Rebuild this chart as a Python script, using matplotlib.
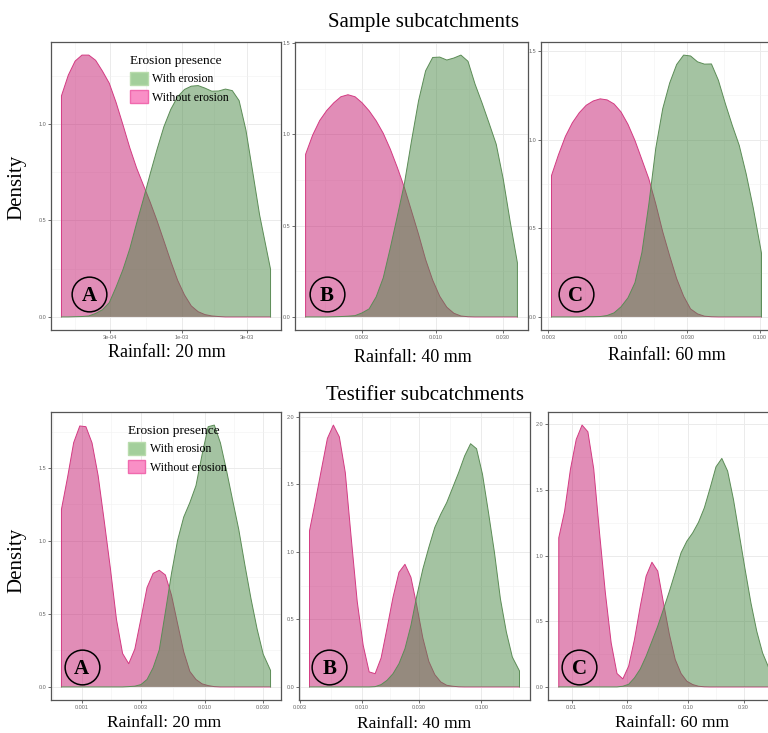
import numpy as np
import matplotlib
matplotlib.use('Agg')
import matplotlib.pyplot as plt
from matplotlib.patches import Patch
from matplotlib.ticker import FixedLocator, FixedFormatter, NullFormatter

# Kernel densities of erosion-prone rainfall depth, on log10(rainfall) grids
# Sample subcatchments - 20 mm
sample_20_logx = [-3.88, -3.83, -3.78, -3.73, -3.68, -3.63, -3.58, -3.53, -3.48, -3.43,
                  -3.38, -3.33, -3.28, -3.23, -3.18, -3.13, -3.08, -3.03, -2.98, -2.93,
                  -2.88, -2.83, -2.78, -2.73, -2.68, -2.63, -2.58, -2.53, -2.48, -2.43,
                  -2.38, -2.35]
sample_20_without = [1.145, 1.252, 1.325, 1.356, 1.356, 1.329, 1.273, 1.210, 1.110, 0.995,
                     0.876, 0.771, 0.682, 0.593, 0.497, 0.393, 0.288, 0.190, 0.114, 0.057,
                     0.027, 0.012, 0.005, 0.002, 0, 0, 0, 0, 0, 0,
                     0, 0]
sample_20_with = [0, 0, 0.001, 0.002, 0.005, 0.018, 0.037, 0.074, 0.155, 0.245,
                  0.353, 0.485, 0.611, 0.743, 0.869, 0.986, 1.075, 1.140, 1.178, 1.195,
                  1.198, 1.185, 1.169, 1.170, 1.180, 1.172, 1.120, 0.967, 0.749, 0.528,
                  0.352, 0.247]

# Sample subcatchments - 40 mm
sample_40_logx = [-2.92, -2.87, -2.82, -2.77, -2.72, -2.67, -2.62, -2.57, -2.52, -2.47,
                  -2.42, -2.37, -2.32, -2.27, -2.22, -2.17, -2.12, -2.07, -2.02, -1.97,
                  -1.92, -1.87, -1.82, -1.77, -1.72, -1.67, -1.62, -1.57, -1.52, -1.47,
                  -1.42]
sample_40_without = [0.890, 0.995, 1.075, 1.130, 1.172, 1.205, 1.216, 1.205, 1.172, 1.128,
                     1.073, 1.005, 0.918, 0.817, 0.707, 0.580, 0.452, 0.314, 0.201, 0.113,
                     0.053, 0.020, 0.005, 0.001, 0, 0, 0, 0, 0, 0,
                     0]
sample_40_with = [0, 0, 0, 0, 0.001, 0.002, 0.004, 0.007, 0.022, 0.044,
                  0.110, 0.214, 0.378, 0.552, 0.731, 0.963, 1.183, 1.347, 1.420, 1.422,
                  1.406, 1.417, 1.433, 1.399, 1.274, 1.170, 1.059, 0.945, 0.753, 0.516,
                  0.296]

# Sample subcatchments - 60 mm
sample_60_logx = [-2.50, -2.45, -2.40, -2.35, -2.30, -2.25, -2.20, -2.15, -2.10, -2.05,
                  -2.00, -1.95, -1.90, -1.85, -1.80, -1.75, -1.70, -1.65, -1.60, -1.55,
                  -1.50, -1.45, -1.40, -1.35, -1.30, -1.25, -1.20, -1.15, -1.10, -1.05,
                  -0.99]
sample_60_without = [0.798, 0.915, 1.019, 1.096, 1.153, 1.195, 1.219, 1.231, 1.225, 1.202,
                     1.157, 1.087, 0.996, 0.888, 0.779, 0.637, 0.480, 0.344, 0.216, 0.117,
                     0.045, 0.017, 0.004, 0.001, 0, 0, 0, 0, 0, 0,
                     0]
sample_60_with = [0, 0, 0, 0, 0, 0.001, 0.001, 0.002, 0.008, 0.023,
                  0.057, 0.108, 0.193, 0.363, 0.637, 0.953, 1.176, 1.321, 1.425, 1.478,
                  1.473, 1.440, 1.427, 1.428, 1.336, 1.204, 1.081, 0.968, 0.807, 0.618,
                  0.360]

# Testifier subcatchments - 20 mm
testifier_20_logx = [-3.17, -3.12, -3.07, -3.02, -2.97, -2.92, -2.87, -2.82, -2.77, -2.72,
                     -2.67, -2.62, -2.57, -2.52, -2.47, -2.42, -2.37, -2.32, -2.27, -2.22,
                     -2.17, -2.12, -2.07, -2.02, -1.97, -1.92, -1.87, -1.82, -1.77, -1.72,
                     -1.67, -1.62, -1.57, -1.52, -1.46]
testifier_20_without = [1.217, 1.436, 1.674, 1.788, 1.783, 1.672, 1.448, 1.136, 0.813, 0.462,
                        0.229, 0.159, 0.259, 0.467, 0.681, 0.778, 0.799, 0.767, 0.628, 0.432,
                        0.240, 0.106, 0.051, 0.021, 0.009, 0.002, 0, 0, 0, 0,
                        0, 0, 0, 0, 0]
testifier_20_with = [0, 0, 0, 0, 0, 0, 0, 0, 0, 0,
                     0, 0.002, 0.005, 0.016, 0.051, 0.132, 0.254, 0.513, 0.778, 1.005,
                     1.164, 1.263, 1.379, 1.591, 1.783, 1.794, 1.672, 1.483, 1.279, 1.079,
                     0.836, 0.605, 0.397, 0.224, 0.113]

# Testifier subcatchments - 40 mm
testifier_40_logx = [-2.44, -2.39, -2.34, -2.29, -2.24, -2.19, -2.14, -2.09, -2.04, -1.99,
                     -1.94, -1.89, -1.84, -1.79, -1.74, -1.69, -1.64, -1.59, -1.54, -1.49,
                     -1.44, -1.39, -1.34, -1.29, -1.24, -1.19, -1.14, -1.09, -1.04, -0.99,
                     -0.94, -0.89, -0.84, -0.79, -0.74, -0.68]
testifier_40_without = [1.156, 1.378, 1.611, 1.840, 1.939, 1.852, 1.587, 1.100, 0.632, 0.308,
                        0.111, 0.098, 0.214, 0.435, 0.664, 0.849, 0.908, 0.812, 0.598, 0.362,
                        0.189, 0.091, 0.037, 0.012, 0.005, 0.001, 0, 0, 0, 0,
                        0, 0, 0, 0, 0, 0]
testifier_40_with = [0, 0, 0, 0, 0, 0, 0, 0, 0, 0,
                     0, 0.002, 0.017, 0.049, 0.098, 0.172, 0.283, 0.455, 0.677, 0.873,
                     1.033, 1.181, 1.279, 1.365, 1.476, 1.587, 1.710, 1.801, 1.764, 1.574,
                     1.292, 0.996, 0.652, 0.406, 0.221, 0.118]

# Testifier subcatchments - 60 mm
testifier_60_logx = [-2.11, -2.06, -2.01, -1.96, -1.91, -1.86, -1.81, -1.76, -1.71, -1.66,
                     -1.61, -1.56, -1.51, -1.46, -1.41, -1.36, -1.31, -1.26, -1.21, -1.16,
                     -1.11, -1.06, -1.01, -0.96, -0.91, -0.86, -0.81, -0.76, -0.71, -0.66,
                     -0.61, -0.56, -0.51, -0.46, -0.41, -0.36, -0.31, -0.26]
testifier_60_without = [1.136, 1.339, 1.657, 1.886, 1.995, 1.944, 1.662, 1.174, 0.717, 0.335,
                        0.102, 0.061, 0.158, 0.361, 0.615, 0.844, 0.950, 0.882, 0.635, 0.399,
                        0.208, 0.102, 0.043, 0.018, 0.005, 0.001, 0, 0, 0, 0,
                        0, 0, 0, 0, 0, 0, 0, 0]
testifier_60_with = [0, 0, 0, 0, 0, 0, 0, 0, 0, 0,
                     0, 0.005, 0.020, 0.069, 0.137, 0.234, 0.348, 0.463, 0.595, 0.729,
                     0.874, 1.022, 1.111, 1.174, 1.255, 1.365, 1.517, 1.677, 1.741, 1.644,
                     1.428, 1.161, 0.895, 0.640, 0.424, 0.259, 0.152, 0.094]

# axis breaks
ticks_s20 = [3e-4, 1e-3, 3e-3]
labels_s20 = ['3e-04', '1e-03', '3e-03']
ticks_s40 = [0.003, 0.01, 0.03]
labels_s40 = ['0.003', '0.010', '0.030']
ticks_s60 = [0.003, 0.01, 0.03, 0.1]
labels_s60 = ['0.003', '0.010', '0.030', '0.100']
ticks_t20 = [0.001, 0.003, 0.01, 0.03]
labels_t20 = ['0.001', '0.003', '0.010', '0.030']
ticks_t40 = [0.003, 0.01, 0.03, 0.1]
labels_t40 = ['0.003', '0.010', '0.030', '0.100']
ticks_t60 = [0.01, 0.03, 0.1, 0.3]
labels_t60 = ['0.01', '0.03', '0.10', '0.30']

GREEN = '#4B8947'
GREEN_LINE = '#5B8C56'
PINK = '#C51D71'
PINK_LINE = '#D33A82'
SERIF = 'Liberation Serif'
SANS = 'Liberation Sans'

W, H = 768, 733
fig = plt.figure(figsize=(W / 100, H / 100), dpi=100)


def box(x0, y0, x1, y1):
    # pixel box -> figure fraction
    return [x0 / W, 1 - y1 / H, (x1 - x0) / W, (y1 - y0) / H]


def draw_panel(rect, logx, with_e, without_e, xt, xl, yt, letter, letter_pos):
    ax = fig.add_axes(box(*rect))
    x = 10 ** np.array(logx)
    w = np.array(with_e)
    wo = np.array(without_e)

    ax.fill_between(x, 0, wo, facecolor=PINK, alpha=0.5, lw=0, zorder=2)
    ax.plot(np.r_[x[0], x, x[-1]], np.r_[0, wo, 0], color=PINK_LINE, lw=0.7, zorder=2)
    ax.fill_between(x, 0, w, facecolor=GREEN, alpha=0.5, lw=0, zorder=3)
    ax.plot(np.r_[x[0], x, x[-1]], np.r_[0, w, 0], color=GREEN_LINE, lw=0.7, zorder=3)

    ax.set_xscale('log')
    lo, hi = logx[0], logx[-1]
    pad = 0.05 * (hi - lo)
    ax.set_xlim(10 ** (lo - pad), 10 ** (hi + pad))
    ymax = max(w.max(), wo.max())
    ax.set_ylim(-0.05 * ymax, 1.05 * ymax)

    # major / minor breaks, minor at midpoints in log space
    lt = np.log10(xt)
    d = lt[1] - lt[0]
    ext = np.r_[lt[0] - d, lt, lt[-1] + d]
    ax.xaxis.set_major_locator(FixedLocator(xt))
    ax.xaxis.set_major_formatter(FixedFormatter(xl))
    ax.xaxis.set_minor_locator(FixedLocator(10 ** ((ext[:-1] + ext[1:]) / 2)))
    ax.xaxis.set_minor_formatter(NullFormatter())
    ax.yaxis.set_major_locator(FixedLocator(yt))
    ax.yaxis.set_major_formatter(FixedFormatter(['%.1f' % v for v in yt]))
    ax.yaxis.set_minor_locator(FixedLocator(np.r_[np.array(yt) + 0.25]))

    ax.grid(which='major', color='#EBEBEB', lw=0.7, zorder=0)
    ax.grid(which='minor', color='#F2F2F2', lw=0.4, zorder=0)
    ax.set_axisbelow(True)
    ax.tick_params(which='major', length=2, width=0.5, color='#333333', pad=1.5,
                   labelsize=4, labelcolor='#666666')
    ax.tick_params(which='minor', length=0)
    for lab in ax.get_xticklabels() + ax.get_yticklabels():
        lab.set_family(SANS)
    for s in ax.spines.values():
        s.set_color('#555555')
        s.set_linewidth(0.9)

    # panel letter in a circle
    ax.plot([letter_pos[0]], [letter_pos[1]], marker='o', ms=25, mfc='none', mec='black',
            mew=1.1, transform=ax.transAxes, zorder=5, clip_on=False)
    ax.text(letter_pos[0], letter_pos[1] - 0.008, letter, transform=ax.transAxes,
            ha='center', va='center', family=SERIF, fontsize=15, fontweight='bold', zorder=6)
    return ax


def add_legend(ax, anchor):
    handles = [Patch(facecolor='#A3CF9B', edgecolor='#B9DCAD', label='With erosion'),
               Patch(facecolor='#F98FC6', edgecolor='#F06AAE', label='Without erosion')]
    ax.legend(handles=handles, title='Erosion presence', loc='upper left',
              bbox_to_anchor=anchor, frameon=False, alignment='left',
              prop={'family': SERIF, 'size': 8.6},
              title_fontproperties={'family': SERIF, 'size': 9.6},
              handlelength=1.45, handleheight=1.3, handletextpad=0.35,
              labelspacing=0.4, borderpad=0, borderaxespad=0)


a1 = draw_panel((51, 42, 281, 330), sample_20_logx, sample_20_with, sample_20_without,
                ticks_s20, labels_s20, [0, 0.5, 1.0], 'A', (0.165, 0.125))
draw_panel((295, 42, 528, 330), sample_40_logx, sample_40_with, sample_40_without,
           ticks_s40, labels_s40, [0, 0.5, 1.0, 1.5], 'B', (0.136, 0.125))
draw_panel((541, 42, 772, 330), sample_60_logx, sample_60_with, sample_60_without,
           ticks_s60, labels_s60, [0, 0.5, 1.0, 1.5], 'C', (0.150, 0.125))
a4 = draw_panel((51, 412, 281, 700), testifier_20_logx, testifier_20_with, testifier_20_without,
                ticks_t20, labels_t20, [0, 0.5, 1.0, 1.5], 'A', (0.133, 0.115))
draw_panel((299, 412, 530, 700), testifier_40_logx, testifier_40_with, testifier_40_without,
           ticks_t40, labels_t40, [0, 0.5, 1.0, 1.5, 2.0], 'B', (0.131, 0.115))
draw_panel((548, 412, 785, 700), testifier_60_logx, testifier_60_with, testifier_60_without,
           ticks_t60, labels_t60, [0, 0.5, 1.0, 1.5, 2.0], 'C', (0.132, 0.115))

add_legend(a1, (0.345, 0.955))
add_legend(a4, (0.335, 0.955))

# titles and axis labels
def ftext(x, y, s, **kw):
    fig.text(x / W, 1 - y / H, s, family=SERIF, **kw)

ftext(424, 27, 'Sample subcatchments', fontsize=15, ha='center', va='baseline')
ftext(425, 400, 'Testifier subcatchments', fontsize=15, ha='center', va='baseline')
ftext(17, 187, 'Density', fontsize=15, rotation=90, ha='center', va='center')
ftext(17, 560, 'Density', fontsize=15, rotation=90, ha='center', va='center')
ftext(167, 357, 'Rainfall: 20 mm', fontsize=13, ha='center', va='baseline')
ftext(413, 362, 'Rainfall: 40 mm', fontsize=13, ha='center', va='baseline')
ftext(667, 360, 'Rainfall: 60 mm', fontsize=13, ha='center', va='baseline')
ftext(164, 727, 'Rainfall: 20 mm', fontsize=12.5, ha='center', va='baseline')
ftext(414, 728, 'Rainfall: 40 mm', fontsize=12.5, ha='center', va='baseline')
ftext(672, 727, 'Rainfall: 60 mm', fontsize=12.5, ha='center', va='baseline')

plt.savefig('out.png', dpi=100)
